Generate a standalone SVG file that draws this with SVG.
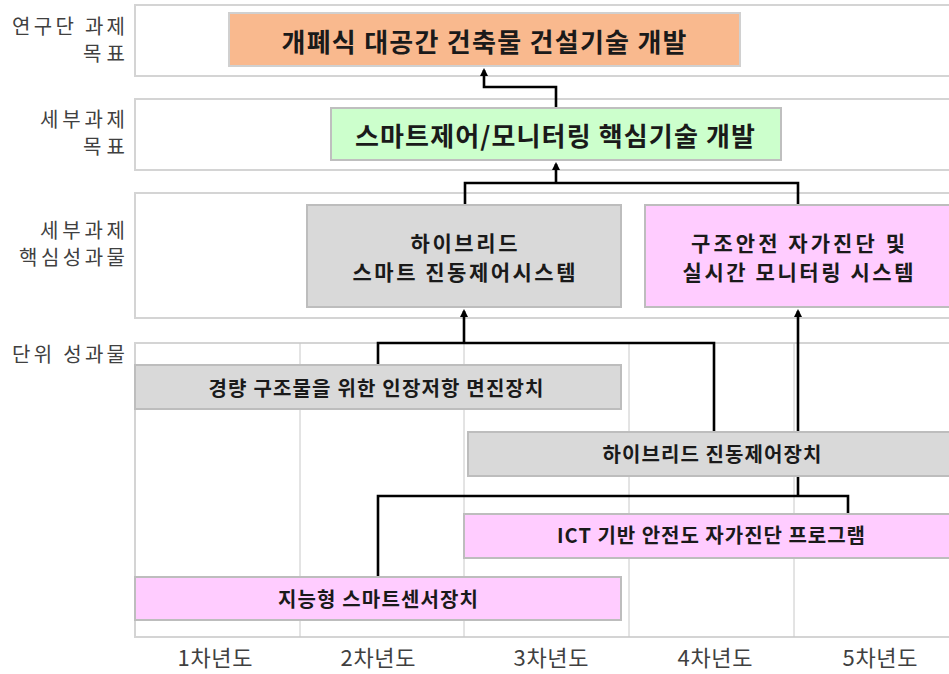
<svg xmlns="http://www.w3.org/2000/svg" width="949" height="674" viewBox="0 0 949 674">
<style>
  .band{fill:#ffffff;stroke:#d4d4d4;stroke-width:2}
  .grid{stroke:#c8c8c8;stroke-width:1}
  .lbl{font-family:"Noto Sans CJK KR","Noto Sans",sans-serif;font-size:20px;fill:#404040;text-anchor:end}
  .yr{font-family:"Noto Sans CJK KR","Noto Sans",sans-serif;font-size:22px;fill:#404040;text-anchor:middle}
  .nt{font-family:"Noto Sans CJK KR","Noto Sans",sans-serif;font-weight:bold;fill:#1a1a1a;text-anchor:middle}
  .big{font-size:26px}
  .mid{font-size:21px}
  .sm{font-size:20px}
  .orange{fill:#f9b98e;stroke:#d0d0d0;stroke-width:2}
  .green{fill:#ccffcc;stroke:#bfbfbf;stroke-width:2}
  .gray{fill:#d9d9d9;stroke:#bdbdbd;stroke-width:2}
  .pink{fill:#ffccff;stroke:#bdbdbd;stroke-width:2}
  .conn{fill:none;stroke:#000;stroke-width:2.6}
</style>
<defs>
  <marker id="arr" markerUnits="userSpaceOnUse" markerWidth="10" markerHeight="10" refX="6" refY="4" orient="auto">
    <path d="M0,0 L8,4 L0,8 z" fill="#000"/>
  </marker>
</defs>
<rect width="949" height="674" fill="#ffffff"/>

<!-- bands -->
<rect class="band" x="135" y="5" width="830" height="71"/>
<rect class="band" x="135" y="99" width="830" height="71"/>
<rect class="band" x="135" y="193" width="830" height="125"/>
<rect class="band" x="135" y="343" width="830" height="294"/>
<line class="grid" x1="300" y1="343" x2="300" y2="637"/>
<line class="grid" x1="464" y1="343" x2="464" y2="637"/>
<line class="grid" x1="629" y1="343" x2="629" y2="637"/>
<line class="grid" x1="794" y1="343" x2="794" y2="637"/>

<!-- row labels -->
<text class="lbl" x="125" y="34" textLength="113" lengthAdjust="spacing">연구단 과제</text>
<text class="lbl" x="125" y="61" textLength="42" lengthAdjust="spacing">목표</text>
<text class="lbl" x="125" y="127" textLength="85" lengthAdjust="spacing">세부과제</text>
<text class="lbl" x="125" y="154" textLength="42" lengthAdjust="spacing">목표</text>
<text class="lbl" x="125" y="238" textLength="85" lengthAdjust="spacing">세부과제</text>
<text class="lbl" x="125" y="265" textLength="106" lengthAdjust="spacing">핵심성과물</text>
<text class="lbl" x="125" y="362" textLength="113" lengthAdjust="spacing">단위 성과물</text>

<!-- year labels -->
<text class="yr" x="215" y="666" textLength="75" lengthAdjust="spacing">1차년도</text>
<text class="yr" x="378" y="666" textLength="75" lengthAdjust="spacing">2차년도</text>
<text class="yr" x="551" y="666" textLength="75" lengthAdjust="spacing">3차년도</text>
<text class="yr" x="715" y="666" textLength="75" lengthAdjust="spacing">4차년도</text>
<text class="yr" x="880" y="666" textLength="75" lengthAdjust="spacing">5차년도</text>

<!-- connectors -->
<g id="connectors">
  <path class="conn" d="M556,108 V87 H484 V70" marker-end="url(#arr)"/>
  <path class="conn" d="M465,205 V183 H798 V205"/>
  <path class="conn" d="M556,183 V164" marker-end="url(#arr)"/>
  <path class="conn" d="M378,365 V343 H714 V432"/>
  <path class="conn" d="M464,343 V311" marker-end="url(#arr)"/>
  <path class="conn" d="M378,577 V496 H848 V513"/>
  <path class="conn" d="M798,496 V311" marker-end="url(#arr)"/>
</g>

<!-- nodes -->
<g id="goal">
  <rect class="orange" x="229" y="13" width="511" height="53"/>
  <text class="nt big" x="484" y="52" textLength="405" lengthAdjust="spacing">개폐식 대공간 건축물 건설기술 개발</text>
</g>
<g id="subgoal">
  <rect class="green" x="331" y="108" width="450" height="52"/>
  <text class="nt big" x="555" y="146" textLength="400" lengthAdjust="spacing">스마트제어/모니터링 핵심기술 개발</text>
</g>
<g id="hybrid-system">
  <rect class="gray" x="307" y="205" width="314" height="102"/>
  <text class="nt mid" x="464" y="251" textLength="107" lengthAdjust="spacing">하이브리드</text>
  <text class="nt mid" x="464" y="280" textLength="223" lengthAdjust="spacing">스마트 진동제어시스템</text>
</g>
<g id="monitoring-system">
  <rect class="pink" x="645" y="205" width="310" height="102"/>
  <text class="nt mid" x="798" y="251" textLength="214" lengthAdjust="spacing">구조안전 자가진단 및</text>
  <text class="nt mid" x="798" y="280" textLength="231" lengthAdjust="spacing">실시간 모니터링 시스템</text>
</g>
<g id="isolation-device">
  <rect class="gray" x="135" y="365" width="486" height="44"/>
  <text class="nt sm" x="376" y="396" textLength="335" lengthAdjust="spacing">경량 구조물을 위한 인장저항 면진장치</text>
</g>
<g id="hybrid-device">
  <rect class="gray" x="468" y="432" width="490" height="44"/>
  <text class="nt sm" x="712" y="462" textLength="219" lengthAdjust="spacing">하이브리드 진동제어장치</text>
</g>
<g id="ict-program">
  <rect class="pink" x="464" y="514" width="494" height="44"/>
  <text class="nt sm" x="711" y="543" textLength="308" lengthAdjust="spacing">ICT 기반 안전도 자가진단 프로그램</text>
</g>
<g id="smart-sensor">
  <rect class="pink" x="135" y="577" width="486" height="43"/>
  <text class="nt sm" x="378" y="607" textLength="200" lengthAdjust="spacing">지능형 스마트센서장치</text>
</g>
</svg>
